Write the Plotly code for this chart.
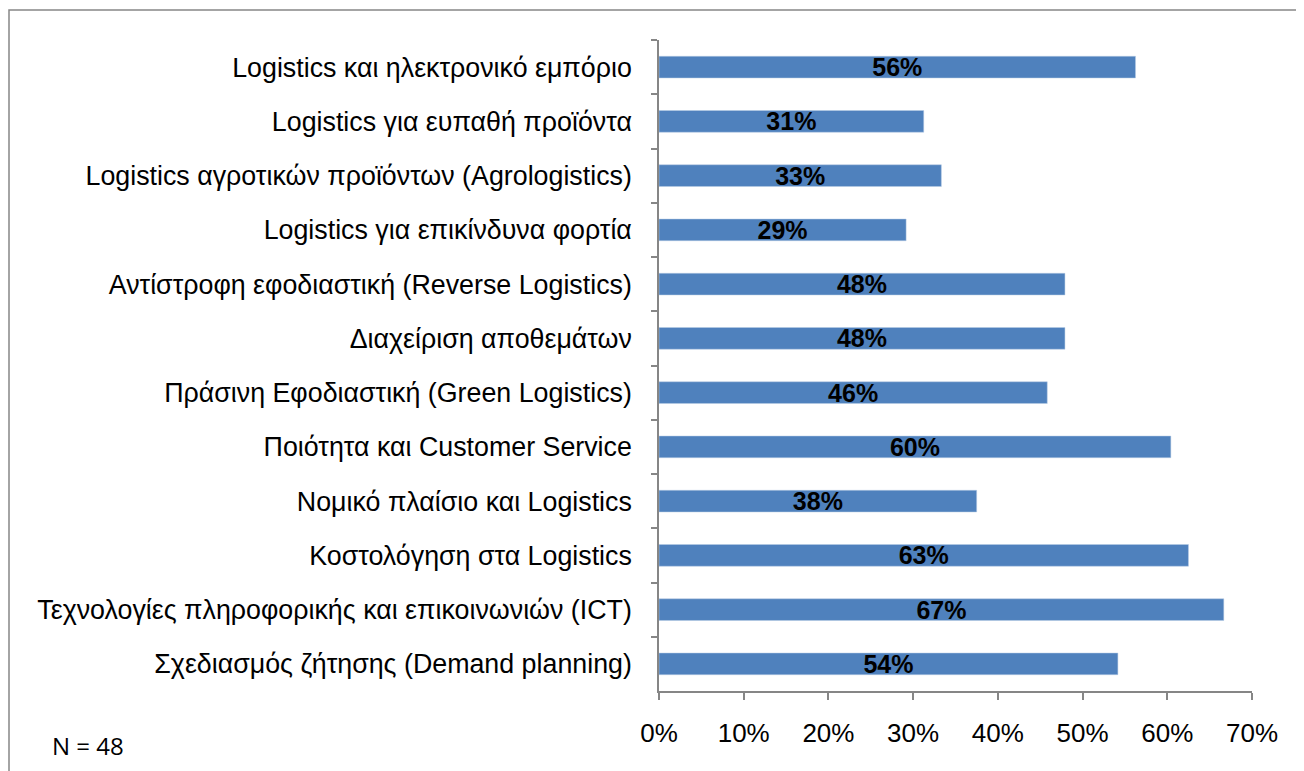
import plotly.graph_objects as go

categories = [
    "Logistics και ηλεκτρονικό εμπόριο",
    "Logistics για ευπαθή προϊόντα",
    "Logistics αγροτικών προϊόντων (Agrologistics)",
    "Logistics για επικίνδυνα φορτία",
    "Αντίστροφη εφοδιαστική (Reverse Logistics)",
    "Διαχείριση αποθεμάτων",
    "Πράσινη Εφοδιαστική (Green Logistics)",
    "Ποιότητα και Customer Service",
    "Νομικό πλαίσιο και Logistics",
    "Κοστολόγηση στα Logistics",
    "Τεχνολογίες πληροφορικής και επικοινωνιών (ICT)",
    "Σχεδιασμός ζήτησης (Demand planning)",
]
values = [56.25, 31.25, 33.33, 29.17, 47.92, 47.92, 45.83, 60.42, 37.5, 62.5, 66.67, 54.17]
x_ticks = [0, 10, 20, 30, 40, 50, 60, 70]
note = "N = 48"

# page body adds an 8px margin, so the figure is a bit smaller than the window
W, H = 1296, 763
L, R, T, B = 651, 52, 32, 80
pw, ph = W - L - R, H - T - B


def px_x(p):
    return (p - L) / pw


def px_y(p):
    return (H - B - p) / ph


fig = go.Figure(
    go.Bar(
        x=values,
        y=categories,
        orientation="h",
        marker=dict(color="#4F81BD", line=dict(color="#B9CDE5", width=0.5)),
        texttemplate="%{x:.0f}%",
        textposition="inside",
        insidetextanchor="middle",
        textangle=0,
        constraintext="none",
        textfont=dict(family="Liberation Sans, Arial", size=25, color="black", weight="bold"),
        hoverinfo="skip",
    )
)

fig.update_layout(
    width=W,
    height=H,
    margin=dict(l=L, r=R, t=T, b=B),
    paper_bgcolor="white",
    plot_bgcolor="white",
    bargap=0.6,
    showlegend=False,
    font=dict(family="Liberation Sans, Arial", size=26, color="black"),
    uniformtext=dict(mode=False),
)
fig.update_xaxes(
    range=[0, 70],
    tickvals=x_ticks,
    ticktext=[f"{t}%" for t in x_ticks],
    showgrid=False,
    zeroline=False,
    showline=True,
    linecolor="#868686",
    linewidth=1.5,
    ticks="outside",
    ticklen=7,
    tickcolor="#868686",
    tickwidth=1.5,
    ticklabelstandoff=11,
    tickfont=dict(size=26),
)
fig.update_yaxes(
    autorange="reversed",
    showgrid=False,
    showline=True,
    linecolor="#868686",
    linewidth=1.5,
    ticks="outside",
    tickson="boundaries",
    ticklen=6,
    tickcolor="#868686",
    tickwidth=1.5,
    ticklabelstandoff=20,
    tickfont=dict(size=26.8),
)

fig.add_shape(
    type="rect",
    xref="paper",
    yref="paper",
    x0=px_x(1),
    x1=px_x(W + 10),
    y0=px_y(H + 10),
    y1=px_y(2),
    line=dict(color="#868686", width=1.5),
    fillcolor="rgba(0,0,0,0)",
    layer="below",
)
fig.add_annotation(
    text=note,
    xref="paper",
    yref="paper",
    x=px_x(42),
    y=px_y(737),
    xanchor="left",
    yanchor="middle",
    showarrow=False,
    font=dict(family="Open Sans, Noto Sans", size=24, color="black"),
)

fig.write_html("out.html")
